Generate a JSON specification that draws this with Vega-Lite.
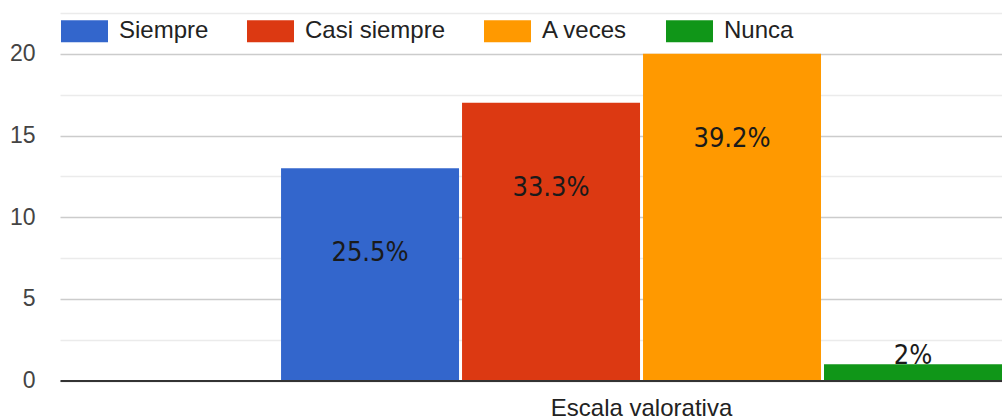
{
  "$schema": "https://vega.github.io/schema/vega-lite/v6.json",
  "width": 942,
  "height": 367.5,
  "autosize": {"type": "none"},
  "padding": {"left": 60, "top": 13, "right": 0, "bottom": 35},
  "background": "white",
  "config": {"view": {"stroke": null}, "font": "Liberation Sans"},
  "data": {
    "values": [
      {"grupo": "Escala valorativa", "serie": "Siempre", "valor": 13, "etiqueta": "25.5%"},
      {"grupo": "Escala valorativa", "serie": "Casi siempre", "valor": 17, "etiqueta": "33.3%"},
      {"grupo": "Escala valorativa", "serie": "A veces", "valor": 20, "etiqueta": "39.2%"},
      {"grupo": "Escala valorativa", "serie": "Nunca", "valor": 1, "etiqueta": "2%"}
    ]
  },
  "encoding": {
    "x": {
      "field": "grupo",
      "type": "nominal",
      "scale": {"paddingInner": 0, "paddingOuter": 0.1533, "align": 1},
      "axis": {
        "title": null,
        "labelAngle": 0,
        "ticks": false,
        "labelPadding": 16,
        "labelLimit": 0,
        "labelFont": "Liberation Sans",
        "labelFontSize": 24,
        "labelColor": "#222222",
        "domainColor": "#333333",
        "domainWidth": 2,
        "grid": false,
        "zindex": 1
      }
    },
    "xOffset": {
      "field": "serie",
      "type": "nominal",
      "sort": ["Siempre", "Casi siempre", "A veces", "Nunca"],
      "scale": {"paddingInner": 0.0166, "paddingOuter": 0}
    },
    "y": {
      "field": "valor",
      "type": "quantitative",
      "scale": {"domain": [0, 22.5], "nice": false},
      "axis": {
        "title": null,
        "values": [0, 2.5, 5, 7.5, 10, 12.5, 15, 17.5, 20, 22.5],
        "labelExpr": "datum.value % 5 === 0 ? datum.label : ''",
        "gridColor": {"condition": {"test": "datum.value % 5 === 0", "value": "#cccccc"}, "value": "#ebebeb"},
        "gridWidth": 1.5,
        "domain": false,
        "ticks": false,
        "labelPadding": 25,
        "labelFont": "Liberation Sans",
        "labelFontSize": 23,
        "labelColor": "#444444"
      }
    }
  },
  "layer": [
    {
      "mark": {"type": "bar"},
      "encoding": {
        "color": {
          "field": "serie",
          "type": "nominal",
          "scale": {
            "domain": ["Siempre", "Casi siempre", "A veces", "Nunca"],
            "range": ["#3366cc", "#dc3912", "#ff9900", "#109618"]
          },
          "legend": {
            "title": null,
            "orient": "none",
            "legendX": 1,
            "legendY": -5.5,
            "direction": "horizontal",
            "symbolType": "M-1,-0.468H1V0.468H-1Z",
            "symbolSize": 2209,
            "symbolStrokeWidth": 0,
            "symbolOpacity": 1,
            "labelFont": "Liberation Sans",
            "labelFontSize": 24,
            "labelColor": "#222222",
            "labelOffset": 11,
            "columnPadding": 38
          }
        }
      }
    },
    {
      "transform": [{"filter": "datum.valor >= 5"}],
      "mark": {"type": "text", "dy": 85, "baseline": "middle", "font": "DejaVu Sans Condensed, sans-serif", "fontSize": 27, "color": "#1a1a1a"},
      "encoding": {"text": {"field": "etiqueta"}}
    },
    {
      "transform": [{"filter": "datum.valor < 5"}],
      "mark": {"type": "text", "dy": -8, "baseline": "middle", "font": "DejaVu Sans Condensed, sans-serif", "fontSize": 27, "color": "#1a1a1a"},
      "encoding": {"text": {"field": "etiqueta"}}
    }
  ]
}
